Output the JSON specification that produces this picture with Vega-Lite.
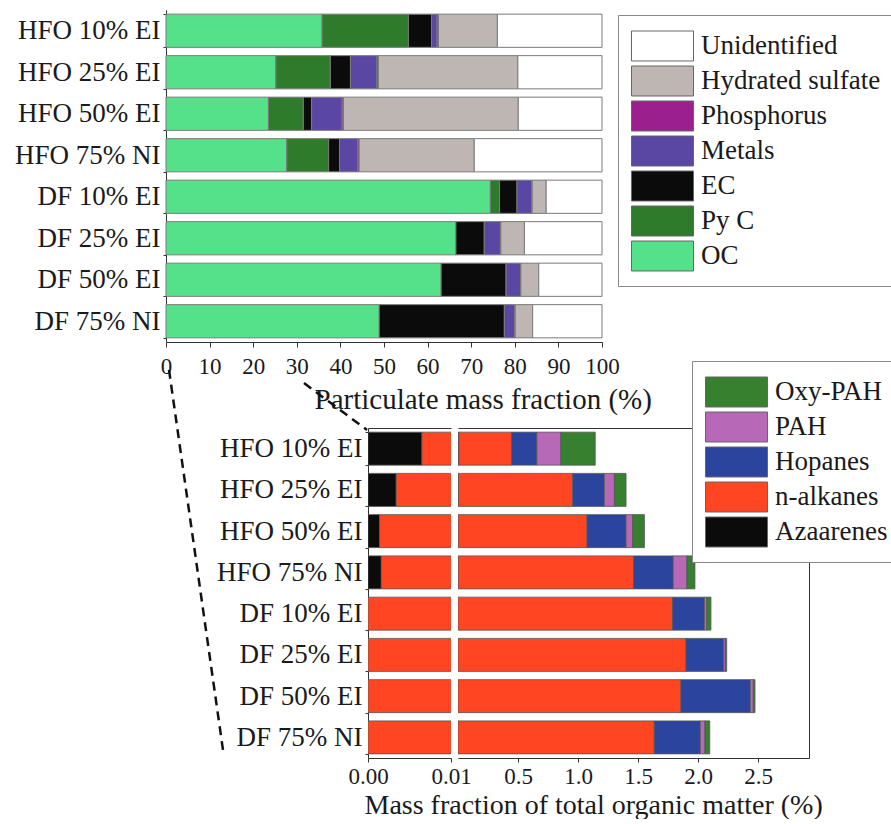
{
  "$schema": "https://vega.github.io/schema/vega-lite/v6.json",
  "padding": {"left": 14, "top": -4, "right": 0, "bottom": 0},
  "autosize": {"type": "pad"},
  "background": "#ffffff",
  "config": {
    "font": "Liberation Serif",
    "view": {"stroke": null},
    "axis": {
      "grid": false,
      "labelFlush": false,
      "labelColor": "#1a1a1a",
      "titleColor": "#1a1a1a",
      "titleFontWeight": "normal",
      "domainColor": "#333333",
      "tickColor": "#333333"
    },
    "legend": {
      "labelColor": "#1a1a1a",
      "labelFontSize": 27,
      "labelLimit": 400,
      "labelOffset": 34,
      "symbolType": "M-1,-0.857H2.543V0.857H-1Z",
      "symbolSize": 1225,
      "symbolStrokeColor": "#666666",
      "symbolStrokeWidth": 1,
      "symbolOpacity": 1,
      "padding": 13,
      "strokeColor": "#888888",
      "fillColor": "#ffffff",
      "rowPadding": 0
    }
  },
  "datasets": {
    "particulate_order": [
      {"component": "OC", "stack_rank": 1},
      {"component": "Py C", "stack_rank": 2},
      {"component": "EC", "stack_rank": 3},
      {"component": "Metals", "stack_rank": 4},
      {"component": "Phosphorus", "stack_rank": 5},
      {"component": "Hydrated sulfate", "stack_rank": 6},
      {"component": "Unidentified", "stack_rank": 7}
    ],
    "organics_order": [
      {"component": "Azaarenes", "stack_rank": 1},
      {"component": "n-alkanes", "stack_rank": 2},
      {"component": "Hopanes", "stack_rank": 3},
      {"component": "PAH", "stack_rank": 4},
      {"component": "Oxy-PAH", "stack_rank": 5}
    ],
    "particulate": [
      {"sample": "HFO 10% EI", "component": "OC", "value": 35.8},
      {"sample": "HFO 10% EI", "component": "Py C", "value": 19.8},
      {"sample": "HFO 10% EI", "component": "EC", "value": 5.3},
      {"sample": "HFO 10% EI", "component": "Metals", "value": 1.3},
      {"sample": "HFO 10% EI", "component": "Phosphorus", "value": 0.3},
      {"sample": "HFO 10% EI", "component": "Hydrated sulfate", "value": 13.5},
      {"sample": "HFO 10% EI", "component": "Unidentified", "value": 24.0},
      {"sample": "HFO 25% EI", "component": "OC", "value": 25.2},
      {"sample": "HFO 25% EI", "component": "Py C", "value": 12.5},
      {"sample": "HFO 25% EI", "component": "EC", "value": 4.6},
      {"sample": "HFO 25% EI", "component": "Metals", "value": 6.1},
      {"sample": "HFO 25% EI", "component": "Phosphorus", "value": 0.3},
      {"sample": "HFO 25% EI", "component": "Hydrated sulfate", "value": 32.0},
      {"sample": "HFO 25% EI", "component": "Unidentified", "value": 19.3},
      {"sample": "HFO 50% EI", "component": "OC", "value": 23.5},
      {"sample": "HFO 50% EI", "component": "Py C", "value": 8.0},
      {"sample": "HFO 50% EI", "component": "EC", "value": 1.9},
      {"sample": "HFO 50% EI", "component": "Metals", "value": 7.0},
      {"sample": "HFO 50% EI", "component": "Phosphorus", "value": 0.3},
      {"sample": "HFO 50% EI", "component": "Hydrated sulfate", "value": 40.1},
      {"sample": "HFO 50% EI", "component": "Unidentified", "value": 19.2},
      {"sample": "HFO 75% NI", "component": "OC", "value": 27.7},
      {"sample": "HFO 75% NI", "component": "Py C", "value": 9.6},
      {"sample": "HFO 75% NI", "component": "EC", "value": 2.5},
      {"sample": "HFO 75% NI", "component": "Metals", "value": 4.2},
      {"sample": "HFO 75% NI", "component": "Phosphorus", "value": 0.3},
      {"sample": "HFO 75% NI", "component": "Hydrated sulfate", "value": 26.4},
      {"sample": "HFO 75% NI", "component": "Unidentified", "value": 29.3},
      {"sample": "DF 10% EI", "component": "OC", "value": 74.4},
      {"sample": "DF 10% EI", "component": "Py C", "value": 2.1},
      {"sample": "DF 10% EI", "component": "EC", "value": 4.0},
      {"sample": "DF 10% EI", "component": "Metals", "value": 3.4},
      {"sample": "DF 10% EI", "component": "Phosphorus", "value": 0.1},
      {"sample": "DF 10% EI", "component": "Hydrated sulfate", "value": 3.2},
      {"sample": "DF 10% EI", "component": "Unidentified", "value": 12.8},
      {"sample": "DF 25% EI", "component": "OC", "value": 66.5},
      {"sample": "DF 25% EI", "component": "EC", "value": 6.5},
      {"sample": "DF 25% EI", "component": "Metals", "value": 3.7},
      {"sample": "DF 25% EI", "component": "Phosphorus", "value": 0.1},
      {"sample": "DF 25% EI", "component": "Hydrated sulfate", "value": 5.4},
      {"sample": "DF 25% EI", "component": "Unidentified", "value": 17.8},
      {"sample": "DF 50% EI", "component": "OC", "value": 63.1},
      {"sample": "DF 50% EI", "component": "EC", "value": 14.9},
      {"sample": "DF 50% EI", "component": "Metals", "value": 3.3},
      {"sample": "DF 50% EI", "component": "Phosphorus", "value": 0.1},
      {"sample": "DF 50% EI", "component": "Hydrated sulfate", "value": 4.1},
      {"sample": "DF 50% EI", "component": "Unidentified", "value": 14.5},
      {"sample": "DF 75% NI", "component": "OC", "value": 48.9},
      {"sample": "DF 75% NI", "component": "EC", "value": 28.7},
      {"sample": "DF 75% NI", "component": "Metals", "value": 2.4},
      {"sample": "DF 75% NI", "component": "Phosphorus", "value": 0.1},
      {"sample": "DF 75% NI", "component": "Hydrated sulfate", "value": 4.0},
      {"sample": "DF 75% NI", "component": "Unidentified", "value": 15.9}
    ],
    "organics": [
      {"sample": "HFO 10% EI", "component": "Azaarenes", "value": 0.0065},
      {"sample": "HFO 10% EI", "component": "n-alkanes", "value": 0.441},
      {"sample": "HFO 10% EI", "component": "Hopanes", "value": 0.21},
      {"sample": "HFO 10% EI", "component": "PAH", "value": 0.2},
      {"sample": "HFO 10% EI", "component": "Oxy-PAH", "value": 0.286},
      {"sample": "HFO 25% EI", "component": "Azaarenes", "value": 0.0034},
      {"sample": "HFO 25% EI", "component": "n-alkanes", "value": 0.953},
      {"sample": "HFO 25% EI", "component": "Hopanes", "value": 0.263},
      {"sample": "HFO 25% EI", "component": "PAH", "value": 0.084},
      {"sample": "HFO 25% EI", "component": "Oxy-PAH", "value": 0.097},
      {"sample": "HFO 50% EI", "component": "Azaarenes", "value": 0.0014},
      {"sample": "HFO 50% EI", "component": "n-alkanes", "value": 1.074},
      {"sample": "HFO 50% EI", "component": "Hopanes", "value": 0.325},
      {"sample": "HFO 50% EI", "component": "PAH", "value": 0.056},
      {"sample": "HFO 50% EI", "component": "Oxy-PAH", "value": 0.097},
      {"sample": "HFO 75% NI", "component": "Azaarenes", "value": 0.0016},
      {"sample": "HFO 75% NI", "component": "n-alkanes", "value": 1.462},
      {"sample": "HFO 75% NI", "component": "Hopanes", "value": 0.33},
      {"sample": "HFO 75% NI", "component": "PAH", "value": 0.114},
      {"sample": "HFO 75% NI", "component": "Oxy-PAH", "value": 0.067},
      {"sample": "DF 10% EI", "component": "n-alkanes", "value": 1.789},
      {"sample": "DF 10% EI", "component": "Hopanes", "value": 0.264},
      {"sample": "DF 10% EI", "component": "PAH", "value": 0.02},
      {"sample": "DF 10% EI", "component": "Oxy-PAH", "value": 0.035},
      {"sample": "DF 25% EI", "component": "n-alkanes", "value": 1.9},
      {"sample": "DF 25% EI", "component": "Hopanes", "value": 0.314},
      {"sample": "DF 25% EI", "component": "PAH", "value": 0.015},
      {"sample": "DF 25% EI", "component": "Oxy-PAH", "value": 0.01},
      {"sample": "DF 50% EI", "component": "n-alkanes", "value": 1.858},
      {"sample": "DF 50% EI", "component": "Hopanes", "value": 0.578},
      {"sample": "DF 50% EI", "component": "PAH", "value": 0.025},
      {"sample": "DF 50% EI", "component": "Oxy-PAH", "value": 0.014},
      {"sample": "DF 75% NI", "component": "n-alkanes", "value": 1.636},
      {"sample": "DF 75% NI", "component": "Hopanes", "value": 0.383},
      {"sample": "DF 75% NI", "component": "PAH", "value": 0.039},
      {"sample": "DF 75% NI", "component": "Oxy-PAH", "value": 0.04}
    ],
    "guides": [
      {"guide": "lower", "value": 0.69, "row": 8.67},
      {"guide": "lower", "value": 13.07, "row": 17.83},
      {"guide": "upper", "value": 31.65, "row": 8.99},
      {"guide": "upper", "value": 46.1, "row": 10.12}
    ]
  },
  "vconcat": [
    {
      "width": 436,
      "height": 332,
      "layer": [
        {
          "data": {"name": "particulate"},
          "transform": [
            {"lookup": "component", "from": {"data": {"name": "particulate_order"}, "key": "component", "fields": ["stack_rank"]}}
          ],
          "mark": {"type": "bar", "stroke": "#7a7a7a", "strokeWidth": 1},
          "encoding": {
            "y": {
              "field": "sample",
              "type": "nominal",
              "sort": ["HFO 10% EI", "HFO 25% EI", "HFO 50% EI", "HFO 75% NI", "DF 10% EI", "DF 25% EI", "DF 50% EI", "DF 75% NI"],
              "scale": {"paddingInner": 0.2, "paddingOuter": 0.1},
              "axis": {"title": null, "labelFontSize": 27, "labelPadding": 3, "tickBand": "extent", "tickSize": 3}
            },
            "x": {
              "field": "value",
              "type": "quantitative",
              "stack": "zero",
              "title": "Particulate mass fraction (%)",
              "scale": {"domain": [0, 100], "nice": false},
              "axis": {
                "values": [0, 10, 20, 30, 40, 50, 60, 70, 80, 90, 100],
                "labelFontSize": 23,
                "tickSize": 5,
                "labelPadding": 8,
                "titleFontSize": 29,
                "titleAlign": "left",
                "titleAnchor": "start",
                "titleBaseline": "alphabetic",
                "titleX": 148,
                "titleY": 66
              }
            },
            "order": {"field": "stack_rank", "type": "quantitative"},
            "color": {
              "field": "component",
              "type": "nominal",
              "scale": {
                "domain": ["Unidentified", "Hydrated sulfate", "Phosphorus", "Metals", "EC", "Py C", "OC"],
                "range": ["#ffffff", "#bdb6b3", "#9c1f8e", "#5a47a3", "#0b0b0b", "#2f7b2c", "#55e08a"]
              },
              "legend": {"title": null, "orient": "none", "legendX": 452, "legendY": 5}
            }
          }
        },
        {
          "data": {"name": "guides"},
          "mark": {"type": "line", "strokeDash": [9, 6], "strokeWidth": 2.5, "color": "#111111"},
          "encoding": {
            "x": {"field": "value", "type": "quantitative", "title": "Particulate mass fraction (%)"},
            "y": {"field": "row", "type": "quantitative", "scale": {"domain": [0, 8], "reverse": true, "nice": false, "zero": false}, "axis": null},
            "detail": {"field": "guide"}
          }
        }
      ],
      "resolve": {"scale": {"y": "independent"}, "axis": {"y": "independent"}}
    },
    {
      "hconcat": [
        {
          "width": 195,
          "height": 330,
          "data": {"values": []},
          "mark": "point"
        },
        {
          "width": 83,
          "height": 330,
          "layer": [
            {
              "data": {"name": "organics"},
              "transform": [
                {"lookup": "component", "from": {"data": {"name": "organics_order"}, "key": "component", "fields": ["stack_rank"]}}
              ],
              "mark": {"type": "bar", "clip": true, "stroke": "#555555", "strokeWidth": 0.8},
              "encoding": {
                "y": {
                  "field": "sample",
                  "type": "nominal",
                  "sort": ["HFO 10% EI", "HFO 25% EI", "HFO 50% EI", "HFO 75% NI", "DF 10% EI", "DF 25% EI", "DF 50% EI", "DF 75% NI"],
                  "scale": {"paddingInner": 0.2, "paddingOuter": 0.1},
                  "axis": {"title": null, "labelFontSize": 27, "labelPadding": 3, "tickBand": "extent", "tickSize": 3}
                },
                "x": {
                  "field": "value",
                  "type": "quantitative",
                  "stack": "zero",
                  "title": "Mass fraction of total organic matter (%)",
                  "scale": {"domain": [0, 0.01], "nice": false},
                  "axis": {
                    "values": [0, 0.01],
                    "format": ".2f",
                    "labelFontSize": 23,
                    "tickSize": 4,
                    "labelPadding": 3,
                    "titleFontSize": 28,
                    "titleAlign": "left",
                    "titleAnchor": "start",
                    "titleBaseline": "alphabetic",
                    "titleX": -4,
                    "titleY": 55
                  }
                },
                "order": {"field": "stack_rank", "type": "quantitative"},
                "color": {
                  "field": "component",
                  "type": "nominal",
                  "scale": {
                    "domain": ["Oxy-PAH", "PAH", "Hopanes", "n-alkanes", "Azaarenes"],
                    "range": ["#36802f", "#b769b8", "#2b449e", "#ff4521", "#0b0b0b"]
                  },
                  "legend": null
                }
              }
            },
            {
              "data": {"name": "organics"},
              "mark": {"type": "bar", "clip": true, "opacity": 0},
              "encoding": {
                "y": {
                  "field": "sample",
                  "type": "nominal",
                  "sort": ["HFO 10% EI", "HFO 25% EI", "HFO 50% EI", "HFO 75% NI", "DF 10% EI", "DF 25% EI", "DF 50% EI", "DF 75% NI"],
                  "axis": null
                },
                "x": {
                  "field": "value",
                  "type": "quantitative",
                  "title": "Mass fraction of total organic matter (%)",
                  "axis": {"orient": "top", "labels": false, "ticks": false, "title": null}
                }
              }
            }
          ],
          "resolve": {"axis": {"x": "independent", "y": "independent"}}
        },
        {
          "width": 351,
          "height": 330,
          "layer": [
            {
              "data": {"name": "organics"},
              "transform": [
                {"lookup": "component", "from": {"data": {"name": "organics_order"}, "key": "component", "fields": ["stack_rank"]}}
              ],
              "mark": {"type": "bar", "clip": true, "stroke": "#555555", "strokeWidth": 0.8},
              "encoding": {
                "y": {
                  "field": "sample",
                  "type": "nominal",
                  "sort": ["HFO 10% EI", "HFO 25% EI", "HFO 50% EI", "HFO 75% NI", "DF 10% EI", "DF 25% EI", "DF 50% EI", "DF 75% NI"],
                  "scale": {"paddingInner": 0.2, "paddingOuter": 0.1},
                  "axis": null
                },
                "x": {
                  "field": "value",
                  "type": "quantitative",
                  "stack": "zero",
                  "title": null,
                  "scale": {"domain": [0, 2.925], "nice": false},
                  "axis": {
                    "values": [0.5, 1, 1.5, 2, 2.5],
                    "format": ".1f",
                    "labelFontSize": 23,
                    "tickSize": 4,
                    "labelPadding": 3
                  }
                },
                "order": {"field": "stack_rank", "type": "quantitative"},
                "color": {
                  "field": "component",
                  "type": "nominal",
                  "scale": {
                    "domain": ["Oxy-PAH", "PAH", "Hopanes", "n-alkanes", "Azaarenes"],
                    "range": ["#36802f", "#b769b8", "#2b449e", "#ff4521", "#0b0b0b"]
                  },
                  "legend": {"title": null, "orient": "none", "legendX": 234, "legendY": -67}
                }
              }
            },
            {
              "data": {"name": "organics"},
              "mark": {"type": "bar", "clip": true, "opacity": 0},
              "encoding": {
                "y": {
                  "field": "sample",
                  "type": "nominal",
                  "sort": ["HFO 10% EI", "HFO 25% EI", "HFO 50% EI", "HFO 75% NI", "DF 10% EI", "DF 25% EI", "DF 50% EI", "DF 75% NI"],
                  "axis": {"orient": "right", "labels": false, "ticks": false, "title": null}
                },
                "x": {
                  "field": "value",
                  "type": "quantitative",
                  "title": null,
                  "axis": {"orient": "top", "labels": false, "ticks": false, "title": null}
                }
              }
            }
          ],
          "resolve": {"axis": {"x": "independent", "y": "independent"}}
        }
      ],
      "spacing": 7,
      "bounds": "flush",
      "resolve": {"scale": {"color": "independent"}, "legend": {"color": "independent"}}
    }
  ],
  "spacing": 86,
  "bounds": "flush",
  "resolve": {"scale": {"color": "independent"}, "legend": {"color": "independent"}}
}
